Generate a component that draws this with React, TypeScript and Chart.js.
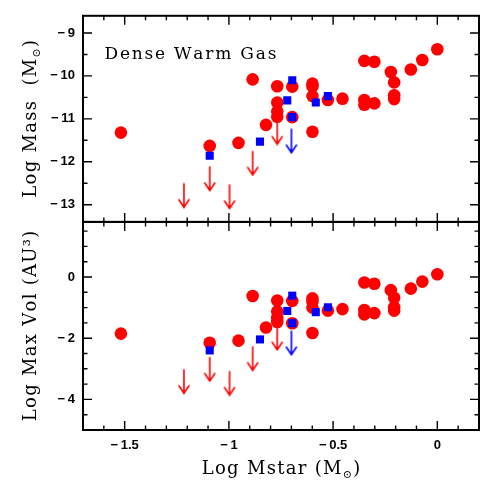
import React, { useEffect, useRef } from "react";
import { Chart, registerables } from "chart.js";
Chart.register(...registerables);

// ---- data ----
const mstarRed = [-1.518, -1.092, -0.954, -0.886, -0.822, -0.768, -0.768, -0.768, -0.768, -0.696, -0.696, -0.599, -0.599, -0.599, -0.599, -0.525, -0.455, -0.35, -0.302, -0.35, -0.35, -0.302, -0.223, -0.207, -0.207, -0.207, -0.127, -0.072, 0.0];
const logMassRed = [-11.32, -11.63, -11.56, -10.08, -11.14, -10.24, -10.62, -10.83, -10.95, -10.25, -10.96, -10.18, -10.24, -10.47, -11.3, -10.56, -10.53, -9.65, -9.67, -10.56, -10.67, -10.64, -9.91, -10.15, -10.45, -10.54, -9.85, -9.63, -9.38];
const logVolRed = [-1.85, -2.15, -2.08, -0.62, -1.65, -0.77, -1.13, -1.34, -1.47, -0.78, -1.51, -0.7, -0.81, -1.0, -1.83, -1.1, -1.05, -0.18, -0.22, -1.08, -1.22, -1.18, -0.43, -0.68, -0.99, -1.1, -0.38, -0.15, 0.09];

const mstarBlue = [-1.092, -0.851, -0.72, -0.696, -0.696, -0.583, -0.525];
const logMassBlue = [-11.86, -11.53, -10.57, -10.1, -10.96, -10.62, -10.47];
const logVolBlue = [-2.4, -2.04, -1.11, -0.61, -1.51, -1.15, -0.99];

const mstarRedLim = [-1.216, -1.092, -0.997, -0.886, -0.768];
const logMassRedLim = [-12.51, -12.12, -12.54, -11.76, -11.04];
const logVolRedLim = [-3.03, -2.63, -3.09, -2.28, -1.61];

const mstarBlueLim = [-0.7];
const logMassBlueLim = [-11.24];
const logVolBlueLim = [-1.77];

const xTicks = [-1.5, -1, -0.5, 0];
const massTicks = [-13, -12, -11, -10, -9];
const volTicks = [-4, -2, 0];

const xTitle = "Log Mstar (M";
const massTitle = "Log Mass  (M";
const volTitle = "Log Max Vol (AU³)";
const panelLabel = "Dense Warm Gas";

const RED = "#ff0000";
const BLUE = "#0000ff";
const TITLE_FONT = "18px 'DejaVu Serif'";
const SUB_FONT = "11px 'DejaVu Serif'";
const TICK_FONT = { family: "'Liberation Sans', Arial, sans-serif", size: 13, weight: "bold" as const };

const pts = (xs: number[], ys: number[]) => xs.map((x, i) => ({ x, y: ys[i] }));
const fmt = (v: number) => (v < 0 ? "\u2212\u2009" + String(Math.abs(v)) : String(v));

function makeArrow(color: string) {
  const c = document.createElement("canvas");
  c.width = 14;
  c.height = 50;
  const g = c.getContext("2d")!;
  g.strokeStyle = color;
  g.lineWidth = 1.6;
  g.lineCap = "round";
  g.beginPath();
  g.moveTo(7, 25);
  g.lineTo(7, 48.5);
  g.moveTo(2, 41);
  g.lineTo(7, 48.5);
  g.lineTo(12, 41);
  g.stroke();
  return c;
}

type Seg = { t: string; font: string; dy: number };
function drawText(ctx: CanvasRenderingContext2D, segs: Seg[], x: number, y: number, rot: number, sp: number, align: "center" | "left") {
  ctx.save();
  ctx.translate(x, y);
  ctx.rotate(rot);
  ctx.fillStyle = "#000";
  ctx.textBaseline = "alphabetic";
  ctx.textAlign = "left";
  const chars: { ch: string; font: string; dy: number; w: number }[] = [];
  for (const s of segs) {
    ctx.font = s.font;
    for (const ch of Array.from(s.t)) chars.push({ ch, font: s.font, dy: s.dy, w: ctx.measureText(ch).width });
  }
  const total = chars.reduce((a, c) => a + c.w, 0) + sp * (chars.length - 1);
  let cx = align === "center" ? -total / 2 : 0;
  for (const c of chars) {
    ctx.font = c.font;
    ctx.fillText(c.ch, cx, c.dy);
    cx += c.w + sp;
  }
  ctx.restore();
}

const framePlugin = {
  id: "frame",
  afterDraw(chart: any) {
    const ctx: CanvasRenderingContext2D = chart.ctx;
    const ca = chart.chartArea;
    const xs = chart.scales.x;
    const panels = [
      { s: chart.scales.yMass, major: 1 },
      { s: chart.scales.yVol, major: 2 },
    ];
    ctx.save();
    ctx.strokeStyle = "#000";
    ctx.lineCap = "butt";
    const MAJ = 9, MIN = 4.5;
    for (const p of panels) {
      const top = p.s.top, bottom = p.s.bottom;
      ctx.lineWidth = 1.4;
      ctx.beginPath();
      for (let k = Math.ceil(xs.min * 10 - 1e-6); k <= Math.floor(xs.max * 10 + 1e-6); k++) {
        const v = k / 10;
        const px = xs.getPixelForValue(v);
        const len = k % 5 === 0 ? MAJ : MIN;
        ctx.moveTo(px, bottom);
        ctx.lineTo(px, bottom - len);
        ctx.moveTo(px, top);
        ctx.lineTo(px, top + len);
      }
      for (let k = Math.ceil(p.s.min * 2 - 1e-6); k <= Math.floor(p.s.max * 2 + 1e-6); k++) {
        const v = k / 2;
        const py = p.s.getPixelForValue(v);
        const isMaj = Math.abs(v / p.major - Math.round(v / p.major)) < 1e-6;
        const len = isMaj ? MAJ : MIN;
        ctx.moveTo(ca.left, py);
        ctx.lineTo(ca.left + len, py);
        ctx.moveTo(ca.right, py);
        ctx.lineTo(ca.right - len, py);
      }
      ctx.stroke();
      ctx.lineWidth = 2;
      ctx.strokeRect(ca.left, top, ca.right - ca.left, bottom - top);
    }
    ctx.restore();

    // titles
    const cxMid = (ca.left + ca.right) / 2;
    drawText(ctx, [
      { t: xTitle, font: TITLE_FONT, dy: 0 },
      { t: "\u2299", font: SUB_FONT, dy: 4 },
      { t: ")", font: TITLE_FONT, dy: 0 },
    ], cxMid, 474, 0, 1.3, "center");
    const ym = chart.scales.yMass, yv = chart.scales.yVol;
    drawText(ctx, [
      { t: massTitle, font: TITLE_FONT, dy: 0 },
      { t: "\u2299", font: SUB_FONT, dy: 4 },
      { t: ")", font: TITLE_FONT, dy: 0 },
    ], 36, (ym.top + ym.bottom) / 2, -Math.PI / 2, 1.3, "center");
    drawText(ctx, [{ t: volTitle, font: TITLE_FONT, dy: 0 }], 36, (yv.top + yv.bottom) / 2, -Math.PI / 2, 1.3, "center");
    drawText(ctx, [{ t: panelLabel, font: "17px 'DejaVu Serif'", dy: 0 }], xs.getPixelForValue(-1.597), ym.getPixelForValue(-9.6), 0, 1.8, "left");
  },
};

export default function App() {
  const ref = useRef<HTMLCanvasElement | null>(null);
  useEffect(() => {
    if (!ref.current) return;
    const redArrow = makeArrow(RED);
    const blueArrow = makeArrow(BLUE);
    const circle = { pointStyle: "circle", pointRadius: 6.3, backgroundColor: RED, borderWidth: 0, order: 3 };
    const square = { pointStyle: "rect", pointRadius: 5.7, backgroundColor: BLUE, borderWidth: 0, order: 2 };
    const tickOpts = { padding: 8, color: "#000", font: TICK_FONT, callback: (v: any) => fmt(Number(v)) };
    const chart = new Chart(ref.current, {
      type: "scatter",
      data: {
        datasets: [
          { label: "red mass", data: pts(mstarRed, logMassRed), yAxisID: "yMass", ...circle } as any,
          { label: "blue mass", data: pts(mstarBlue, logMassBlue), yAxisID: "yMass", ...square } as any,
          { label: "red mass lim", data: pts(mstarRedLim, logMassRedLim), yAxisID: "yMass", pointStyle: redArrow, pointRadius: 3, order: 1 } as any,
          { label: "blue mass lim", data: pts(mstarBlueLim, logMassBlueLim), yAxisID: "yMass", pointStyle: blueArrow, pointRadius: 3, order: 1 } as any,
          { label: "red vol", data: pts(mstarRed, logVolRed), yAxisID: "yVol", ...circle } as any,
          { label: "blue vol", data: pts(mstarBlue, logVolBlue), yAxisID: "yVol", ...square } as any,
          { label: "red vol lim", data: pts(mstarRedLim, logVolRedLim), yAxisID: "yVol", pointStyle: redArrow, pointRadius: 3, order: 1 } as any,
          { label: "blue vol lim", data: pts(mstarBlueLim, logVolBlueLim), yAxisID: "yVol", pointStyle: blueArrow, pointRadius: 3, order: 1 } as any,
        ],
      },
      options: {
        animation: false,
        responsive: false,
        devicePixelRatio: 1,
        layout: { padding: { top: 12, right: 12, left: 0, bottom: 0 } },
        plugins: { legend: { display: false }, tooltip: { enabled: false } },
        events: [],
        scales: {
          x: {
            type: "linear",
            position: "bottom",
            min: -1.7,
            max: 0.2,
            grid: { display: false, drawTicks: false },
            border: { display: false },
            ticks: tickOpts,
            afterBuildTicks: (s: any) => { s.ticks = xTicks.map((v) => ({ value: v })); },
            afterFit: (s: any) => { s.height = 61; },
          },
          yVol: {
            type: "linear",
            position: "left",
            stack: "panels",
            stackWeight: 210,
            min: -5,
            max: 1.8,
            offset: false,
            grid: { display: false, drawTicks: false },
            border: { display: false },
            ticks: tickOpts,
            afterBuildTicks: (s: any) => { s.ticks = volTicks.map((v) => ({ value: v })); },
            afterFit: (s: any) => { s.width = 83; },
          },
          yMass: {
            type: "linear",
            position: "left",
            stack: "panels",
            stackWeight: 208,
            min: -13.4,
            max: -8.6,
            offset: false,
            grid: { display: false, drawTicks: false },
            border: { display: false },
            ticks: tickOpts,
            afterBuildTicks: (s: any) => { s.ticks = massTicks.map((v) => ({ value: v })); },
            afterFit: (s: any) => { s.width = 83; },
          },
        },
      } as any,
      plugins: [framePlugin],
    });
    return () => chart.destroy();
  }, []);
  return (
    <div style={{ position: "fixed", left: 0, top: 0, width: 491, height: 491, background: "#fff" }}>
      <canvas ref={ref} width={491} height={491} style={{ display: "block", width: 491, height: 491 }} />
    </div>
  );
}
